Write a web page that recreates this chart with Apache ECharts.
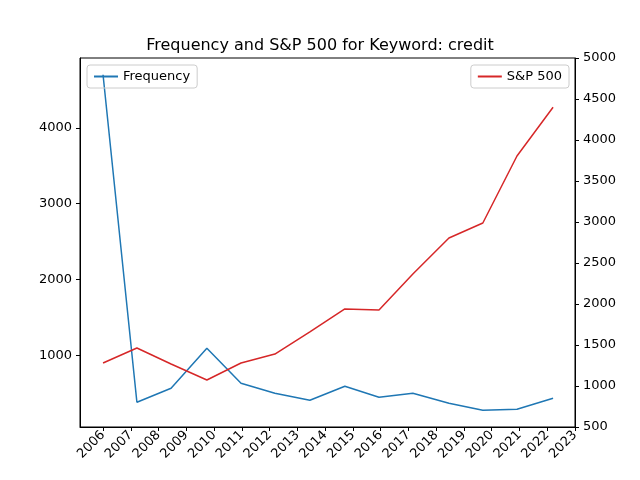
<!DOCTYPE html>
<html><head><meta charset="utf-8">
<script src="https://cdn.jsdelivr.net/npm/echarts@6/dist/echarts.min.js"></script>
<style>html,body{margin:0;padding:0}#c{width:640px;height:480px}</style>
</head><body><div id="c"></div>
<script>
const xYears = [2006.0,2007.22,2008.45,2009.74,2010.97,2012.19,2013.45,2014.71,2015.94,2017.16,2018.46,2019.68,2020.91,2022.21];
const frequency = [4700,379,564,1092,630,498,405,590,445,498,366,273,286,432];
const sp500 = [1280,1463,1268,1073,1280,1390,1660,1940,1927,2366,2805,2988,3805,4400];
const xTicks = [2006,2007,2008,2009,2010,2011,2012,2013,2014,2015,2016,2017,2018,2019,2020,2021,2022,2023];
const leftTicks = [1000,2000,3000,4000];
const font = 'DejaVu Sans';
const chart = echarts.init(document.getElementById('c'));
const legendBase = {orient:'vertical',itemWidth:24,itemHeight:2,icon:'rect',itemStyle:{borderWidth:0},borderColor:'#ccc',borderWidth:1,borderRadius:3,padding:[5,7],textStyle:{fontSize:13,color:'#000',fontFamily:font}};
chart.setOption({
  animation:false,
  textStyle:{fontFamily:font},
  title:{text:'Frequency and S&P 500 for Keyword: credit',left:'center',top:33,textStyle:{fontSize:16,fontWeight:'normal',color:'#000',fontFamily:font}},
  grid:{left:80,right:65,top:58,bottom:53,show:true,borderColor:'#000',borderWidth:1,backgroundColor:'transparent'},
  legend:[
    Object.assign({data:['Frequency'],left:87,top:65},legendBase),
    Object.assign({data:['S&P 500'],right:71,top:65},legendBase)
  ],
  xAxis:{type:'value',min:2005.17,max:2023.0,
    axisLine:{show:true,lineStyle:{color:'#000'}},
    axisTick:{show:true,customValues:xTicks,length:4,lineStyle:{color:'#000'}},
    axisLabel:{customValues:xTicks,rotate:45,color:'#000',fontSize:13,margin:6,formatter:v=>String(Math.round(v))},
    splitLine:{show:false}},
  yAxis:[
    {type:'value',min:52,max:4921,position:'left',
      axisLine:{show:true,lineStyle:{color:'#000'}},
      axisTick:{show:true,customValues:leftTicks,length:4,lineStyle:{color:'#000'}},
      axisLabel:{customValues:leftTicks,color:'#000',fontSize:13,formatter:v=>String(Math.round(v))},
      splitLine:{show:false}},
    {type:'value',min:500,max:5000,interval:500,position:'right',
      axisLine:{show:true,lineStyle:{color:'#000'}},
      axisTick:{show:true,length:4,lineStyle:{color:'#000'}},
      axisLabel:{color:'#000',fontSize:13,formatter:v=>String(Math.round(v))},
      splitLine:{show:false}}
  ],
  series:[
    {name:'Frequency',type:'line',yAxisIndex:0,symbol:'none',data:xYears.map((x,i)=>[x,frequency[i]]),lineStyle:{color:'#1f77b4',width:1.5},itemStyle:{color:'#1f77b4'}},
    {name:'S&P 500',type:'line',yAxisIndex:1,symbol:'none',data:xYears.map((x,i)=>[x,sp500[i]]),lineStyle:{color:'#d62728',width:1.5},itemStyle:{color:'#d62728'}}
  ]
});
</script></body></html>
